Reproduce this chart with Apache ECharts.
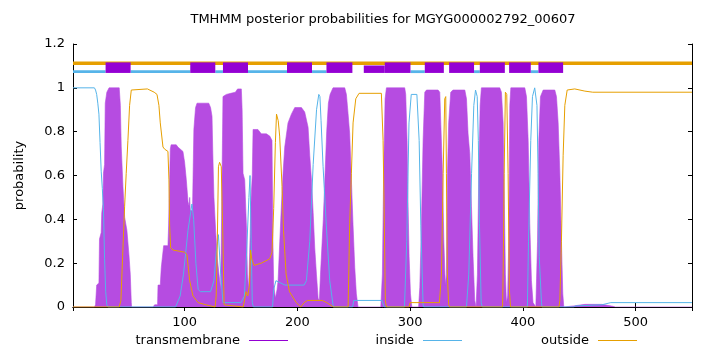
<!DOCTYPE html>
<html>
<head>
<meta charset="utf-8">
<script src="https://cdn.jsdelivr.net/npm/echarts@6/dist/echarts.min.js"></script>
<style>
  html, body { margin: 0; padding: 0; background: #fff; }
  #chart { width: 720px; height: 352px; }
</style>
</head>
<body>
<div id="chart"></div>
<script>
// TMHMM posterior probabilities
const titleText = 'TMHMM posterior probabilities for MGYG000002792_00607';
const seqMin = 1;
const seqMax = 550;

// [residue, probability]
const tmProb = [
  [1,0],[20,0],[21,0.01],[22,0.1],[24,0.11],[24.5,0.31],[26,0.34],[26.5,0.43],[27.5,0.47],[28,0.61],[29,0.65],[29.6,0.93],[31,0.98],[33,1],[42,1],[43,0.92],[43.8,0.73],[45.3,0.55],[46.8,0.41],[48.8,0.35],[50.6,0.24],[51.8,0.15],[52.7,0.02],[53,0],
  [72,0],[73.4,0.01],[76,0.01],[76.4,0.1],[78.4,0.1],[79.3,0.18],[81,0.18],[81.4,0.28],[85.2,0.28],[85.8,0.37],[86.7,0.37],[87.3,0.72],[88,0.74],[92.6,0.74],[94,0.73],[98.5,0.71],[100,0.66],[101.5,0.58],[103,0.48],[104,0.46],[104.5,0.5],[105,0.44],[107,0.44],[107.5,0.6],[108.2,0.81],[109.7,0.91],[111,0.93],[121.4,0.93],[123,0.91],[124.3,0.87],[125,0.7],[126,0.5],[127.6,0.34],[129,0.22],[130.5,0.15],[132,0.08],[133,0.5],[134,0.96],[137,0.97],[141,0.975],[145,0.98],[147,0.995],[150.3,0.995],[151,0.9],[151.8,0.61],[153.3,0.58],[154.8,0.37],[155.7,0.15],[156.8,0.08],[157.7,0.25],[159,0.5],[160,0.6],[160.7,0.81],[165,0.81],[168,0.79],[172.5,0.79],[175.5,0.78],[177.5,0.76],[178.3,0.3],[179,0.1],[180.5,0.04],[182,0.08],[182.9,0.12],[184.4,0.3],[185.8,0.46],[187.3,0.61],[188.8,0.73],[191.7,0.84],[194.7,0.88],[197.7,0.91],[203.6,0.91],[206.5,0.89],[209.5,0.82],[211,0.69],[212.5,0.58],[214,0.43],[215.4,0.27],[216.9,0.15],[218.4,0.04],[219.5,0.03],[220.5,0.15],[222,0.3],[223,0.4],[224.5,0.6],[226,0.8],[227.5,0.93],[229,0.97],[231.6,1],[242,1],[243.5,0.97],[245,0.88],[246.4,0.79],[247.9,0.58],[249.4,0.37],[250.9,0.18],[252.3,0.06],[253.8,0],
  [274,0],[275.4,0.15],[276.6,0.64],[277.8,0.95],[279,1],[295.2,1],[296.1,0.97],[297.3,0.76],[298.2,0.46],[299.1,0.23],[300.3,0.06],[301.5,0],
  [307.5,0],[308.6,0.09],[310,0.37],[311.5,0.76],[313,0.98],[314.5,0.99],[324.8,0.99],[326.3,0.98],[327.2,0.84],[328.7,0.61],[329.9,0.3],[331.2,0.1],[332.2,0.15],[333.1,0.61],[334.2,0.84],[336,0.98],[338,0.99],[348.5,0.99],[350,0.95],[351.4,0.79],[352.9,0.7],[354.4,0.46],[355.8,0.23],[357.3,0.03],[358.5,0],
  [359,0],[359.7,0.15],[360.9,0.61],[362.1,0.92],[363.2,1],[379.5,1],[381,0.98],[382.5,0.84],[383.4,0.53],[384.5,0.15],[385.4,0.02],[386.5,0.05],[387.5,0.3],[388.4,0.92],[389.3,1],[401.7,1],[403.2,0.96],[404.7,0.76],[406.1,0.38],[407.6,0.12],[409,0.02],[411.5,0],[413,0.3],[414.1,0.76],[415.6,0.96],[418,0.99],[428.3,0.99],[429.8,0.96],[431.3,0.84],[432.8,0.61],[434.2,0.3],[435.4,0.06],[436.3,0],
  [445,0.005],[455,0.012],[470,0.012],[480,0.003],[482,0],[550,0]
];

const insideProb = [
  [1,1],[20,1],[21,0.99],[22,0.97],[23,0.93],[24,0.88],[25,0.75],[26,0.62],[27,0.54],[28,0.45],[29,0.22],[30,0.07],[31,0.01],[32,0],
  [92,0],[96,0.05],[99,0.15],[103,0.35],[106.5,0.47],[108,0.4],[110,0.2],[112,0.08],[114,0.07],[123,0.07],[126,0.12],[128,0.25],[130,0.33],[131,0.33],[132,0.15],[134,0.02],[150,0.02],[153,0.05],[155,0.25],[157,0.5],[158,0.6],[159,0.3],[160,0.02],[161,0],
  [178,0],[179,0.08],[181,0.12],[189,0.1],[206,0.1],[208,0.12],[211,0.3],[214,0.65],[217,0.9],[219,0.97],[220,0.96],[221,0.85],[222.8,0.64],[225.7,0.37],[228.7,0.12],[231.6,0.01],[232,0],
  [249,0],[250,0.03],[275,0.03],[277,0],
  [295,0],[297,0.3],[299,0.84],[301,0.97],[306,0.97],[308,0.76],[309.5,0.37],[311.5,0.01],[312,0],
  [350,0],[352,0.15],[354.5,0.61],[356.5,0.92],[358,0.99],[359.5,0.96],[360.5,0.76],[361.5,0.38],[363,0.02],[364,0],
  [404,0],[405,0.3],[407,0.76],[408.5,0.96],[410.5,1],[412.5,0.92],[413.5,0.61],[414.5,0.23],[416.5,0.02],[417,0],
  [445,0],[447,0.005],[470,0.01],[478,0.02],[550,0.02]
];

const outsideProb = [
  [1,0],[42,0],[43.5,0.03],[45,0.23],[46.8,0.46],[48.2,0.61],[49.7,0.76],[51.2,0.92],[52.7,0.99],[67,0.995],[73,0.98],[75.5,0.97],[77.2,0.92],[78.4,0.84],[80.8,0.73],[82.3,0.72],[85.2,0.71],[86.1,0.58],[86.7,0.37],[87.6,0.27],[89.7,0.26],[100,0.25],[102,0.24],[104.5,0.12],[107.4,0.05],[112,0.02],[119,0.01],[127,0],
  [128,0.05],[129,0.3],[130,0.64],[131,0.66],[132.5,0.64],[134,0.3],[135,0.01],[152,0],[154.5,0.07],[156,0.05],[157.5,0.1],[158.5,0.26],[159.5,0.22],[161.5,0.19],[168,0.2],[175.5,0.22],[177.5,0.25],[179,0.45],[180.5,0.75],[181.5,0.88],[183,0.85],[184.3,0.78],[186.4,0.55],[187.7,0.35],[190,0.15],[193,0.07],[199,0.02],[203,0],
  [206,0.02],[209,0.03],[222,0.03],[226,0.02],[229,0.01],[232,0],[245,0],[246.4,0.38],[247.9,0.61],[249.4,0.84],[251.8,0.95],[254.7,0.975],[274.5,0.975],[276,0.76],[276.9,0.46],[278,0.03],[279,0],
  [299,0],[300,0.02],[326,0.02],[327.8,0.15],[329.3,0.61],[330.7,0.95],[331.6,0.96],[332.2,0.61],[333,0.15],[334.2,0.01],[335,0],
  [382,0],[382.5,0.15],[383.4,0.61],[384.5,0.98],[385.7,0.97],[386.9,0.61],[388,0.08],[389,0],
  [432,0],[432.8,0.03],[434.2,0.3],[435.7,0.69],[437.2,0.92],[439.3,0.99],[446,0.995],[455,0.985],[462,0.98],[550,0.98]
];

// predicted topology along the top: [start, end]
const tmSegments = [[29.9,52.1],[105,127.2],[134,156.2],[190.8,213],[225.8,248.8],[277.5,300.3],[313,329.9],[334.6,356.7],[361.8,384],[387.8,407],[413.8,435.7]];
const tmSegmentsLow = [[258.9,277.5]];
const insideSegments = [[1,29.9],[52.1,105],[127.2,134],[156.2,190.8],[213,225.8],[300.3,313],[356.7,361.8],[407,413.8]];
const outsideSegments = [[1,550]];

const FONT = "'DejaVu Sans', sans-serif";
const FS = 13;
const C_TM = '#9400d3', C_TM_FILL = '#b64ce1', C_IN = '#56b4e9', C_OUT = '#e69f00';

const outsideY = 1.1125, insideY = 1.0737, boxBottom = 1.068, boxTop = 1.116, boxTopLow = 1.102;

function bandItem(yMid, thick, color) {
  return function (params, api) {
    const a = api.coord([api.value(0), yMid]);
    const b = api.coord([api.value(1), yMid]);
    return { type: 'rect', shape: { x: a[0], y: a[1] - thick / 2, width: b[0] - a[0], height: thick }, style: { fill: color } };
  };
}
function boxItem(top) {
  return function (params, api) {
    const a = api.coord([api.value(0), top]);
    const b = api.coord([api.value(1), boxBottom]);
    return { type: 'rect', shape: { x: a[0], y: a[1], width: b[0] - a[0], height: b[1] - a[1] }, style: { fill: C_TM } };
  };
}

const chart = echarts.init(document.getElementById('chart'));

const axisCommon = {
  axisLine: { show: true, lineStyle: { color: '#000', width: 1 } },
  axisTick: { show: true, inside: true, length: 4, lineStyle: { color: '#000' } },
  splitLine: { show: false }
};

const legendCommon = {
  orient: 'horizontal', align: 'right', icon: 'rect', itemWidth: 39, itemHeight: 1,
  padding: 0, top: 334, selectedMode: false,
  textStyle: { color: '#000', fontSize: FS, fontFamily: FONT, padding: [0, 4, 0, 0] }
};

chart.setOption({
  animation: false,
  title: {
    text: titleText, left: 383, top: 13, textAlign: 'center', padding: 0,
    textStyle: { color: '#000', fontSize: FS, fontWeight: 'normal', fontFamily: FONT }
  },
  legend: [
    Object.assign({ data: ['transmembrane'], right: 432 }, legendCommon),
    Object.assign({ data: ['inside'], right: 258 }, legendCommon),
    Object.assign({ data: ['outside'], right: 83 }, legendCommon)
  ],
  grid: { left: 73, right: 28, top: 44, bottom: 45 },
  xAxis: [
    Object.assign({
      type: 'value', min: seqMin, max: seqMax, position: 'bottom',
      axisLabel: { color: '#000', fontSize: FS, fontFamily: FONT, margin: 9, showMinLabel: false, showMaxLabel: false }
    }, axisCommon),
    Object.assign({
      type: 'value', min: seqMin, max: seqMax, position: 'top', axisLabel: { show: false }
    }, axisCommon)
  ],
  yAxis: [
    Object.assign({
      type: 'value', min: 0, max: 1.2, interval: 0.2, position: 'left',
      name: 'probability', nameLocation: 'middle', nameGap: 47,
      nameTextStyle: { color: '#000', fontSize: FS, fontFamily: FONT },
      axisLabel: { color: '#000', fontSize: FS, fontFamily: FONT, margin: 8 }
    }, axisCommon),
    Object.assign({
      type: 'value', min: 0, max: 1.2, interval: 0.2, position: 'right', axisLabel: { show: false }
    }, axisCommon)
  ],
  series: [
    {
      name: 'transmembrane', type: 'line', data: tmProb, showSymbol: false, z: 1,
      itemStyle: { color: C_TM },
      lineStyle: { color: C_TM_FILL, width: 0.6 },
      areaStyle: { color: C_TM_FILL, opacity: 1 }
    },
    {
      name: 'inside', type: 'line', data: insideProb, showSymbol: false, z: 2,
      itemStyle: { color: C_IN }, lineStyle: { color: C_IN, width: 1 }
    },
    {
      name: 'outside', type: 'line', data: outsideProb, showSymbol: false, z: 3,
      itemStyle: { color: C_OUT }, lineStyle: { color: C_OUT, width: 1 }
    },
    { type: 'custom', data: outsideSegments, renderItem: bandItem(outsideY, 3.6, C_OUT), z: 4, clip: false },
    { type: 'custom', data: insideSegments, renderItem: bandItem(insideY, 2.8, C_IN), z: 5, clip: false },
    { type: 'custom', data: tmSegmentsLow, renderItem: boxItem(boxTopLow), z: 6, clip: false },
    { type: 'custom', data: tmSegments, renderItem: boxItem(boxTop), z: 6, clip: false }
  ]
});
</script>
</body>
</html>
